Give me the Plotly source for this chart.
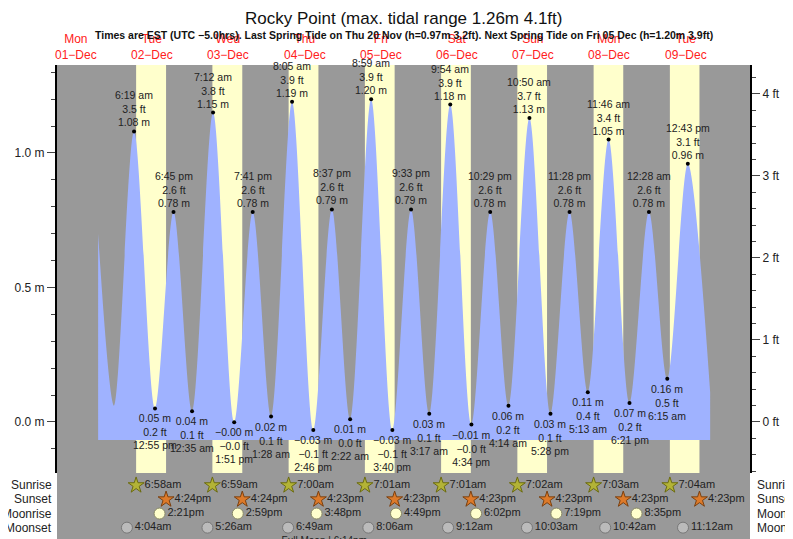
import plotly.graph_objects as go

# ---- data ----
ext_day = [2,2,2,3,3,3,3,4,4,4,4,5,5,5,5,6,6,6,6,7,7,7,7,8,8,8,9,9,9]
ext_time = ["06:19","12:55","18:45","00:35","07:12","13:51","19:41","01:28","08:05","14:46","20:37",
            "02:22","08:59","15:40","21:33","03:17","09:54","16:34","22:29","04:14","10:50","17:28",
            "23:28","05:13","11:46","18:21","00:28","06:15","12:43"]
ext_m = [1.08,0.05,0.78,0.04,1.15,-0.001,0.78,0.02,1.19,-0.03,0.79,0.01,1.20,-0.03,0.79,0.03,1.18,-0.01,
         0.78,0.06,1.13,0.03,0.78,0.11,1.05,0.07,0.78,0.16,0.96]
ext_ft = ["3.5","0.2","2.6","0.1","3.8","-0.0","2.6","0.1","3.9","-0.1","2.6","0.0","3.9","-0.1","2.6",
          "0.1","3.9","-0.0","2.6","0.2","3.7","0.1","2.6","0.4","3.4","0.2","2.6","0.5","3.1"]
ext_high = [1,0,1,0,1,0,1,0,1,0,1,0,1,0,1,0,1,0,1,0,1,0,1,0,1,0,1,0,1]
# curve ends (unlabelled)
start_pts = [(1,"19:00",0.70),(2,"00:00",0.06)]
end_pts = [(9,"19:45",0.11)]

days = [2,3,4,5,6,7,8,9]
sunrise = ["6:58am","6:59am","7:00am","7:01am","7:01am","7:02am","7:03am","7:04am"]
sunset = ["4:24pm","4:24pm","4:23pm","4:23pm","4:23pm","4:23pm","4:23pm","4:23pm"]
moon_days_r = [2,3,4,5,6,7,8]
moonrise = ["2:21pm","2:59pm","3:48pm","4:49pm","6:02pm","7:19pm","8:35pm"]
moonset = ["4:04am","5:26am","6:49am","8:06am","9:12am","10:03am","10:42am","11:12am"]
full_moon = (4, "6:14pm")
day_labels = ["Mon<br>01−Dec","Tue<br>02−Dec","Wed<br>03−Dec","Thu<br>04−Dec","Fri<br>05−Dec",
              "Sat<br>06−Dec","Sun<br>07−Dec","Mon<br>08−Dec","Tue<br>09−Dec"]

def hrs(day, t):
    t = t.strip()
    ampm = None
    if t.endswith("am") or t.endswith("pm"):
        ampm = t[-2:]; t = t[:-2]
    hh, mm = t.split(":")
    hh = int(hh); mm = int(mm)
    if ampm == "pm" and hh != 12: hh += 12
    if ampm == "am" and hh == 12: hh = 0
    return (day-1)*24 + hh + mm/60

def fmt12(t):
    hh, mm = map(int, t.split(":"))
    ap = "am" if hh < 12 else "pm"
    h12 = hh % 12 or 12
    return f"{h12}:{mm:02d} {ap}"

def neg(s):
    return s.replace("-", "−")

ex_x = [hrs(d, t) for d, t in zip(ext_day, ext_time)]
cx = [hrs(d,t) for d,t,_ in start_pts] + ex_x + [hrs(d,t) for d,t,_ in end_pts]
cy = [v for _,_,v in start_pts] + ext_m + [v for _,_,v in end_pts]
BASE = -0.067

YEL = "#ffffcc"; GRAY = "#999999"; BLUE = "#9fb2ff"
fig = go.Figure()
fig.add_trace(go.Scatter(x=[cx[0], cx[-1]], y=[BASE, BASE], mode="lines", line=dict(width=0),
                         hoverinfo="skip", showlegend=False))
fig.add_trace(go.Scatter(x=cx, y=cy, mode="lines", line=dict(shape="spline", smoothing=0.9, width=0, color=BLUE),
                         fill="tonexty", fillcolor=BLUE, showlegend=False, hoverinfo="skip"))
fig.add_trace(go.Scatter(x=ex_x, y=ext_m, mode="markers", marker=dict(color="black", size=4),
                         showlegend=False))

F = "Liberation Sans, Arial, sans-serif"
ann = []
for x, m, ft, t, hi in zip(ex_x, ext_m, ext_ft, ext_time, ext_high):
    ms = neg(f"{m:.2f}") + " m"
    fs = neg(ft) + " ft"
    ts = fmt12(t)
    if hi:
        ann.append(dict(x=x, y=m, text=f"{ts}<br>{fs}<br>{ms}", showarrow=False, yanchor="bottom", yshift=1,
                        font=dict(size=10.5, color="#222"), xref="x", yref="y"))
    else:
        ann.append(dict(x=x, y=m, text=f"{ms}<br>{fs}<br>{ts}", showarrow=False, yanchor="top", yshift=-2,
                        font=dict(size=10.5, color="#222"), xref="x", yref="y"))

# day labels at noon
for i, lab in enumerate(day_labels):
    ann.append(dict(x=i*24+12, y=1.0, yref="paper", xref="x", yanchor="bottom", yshift=1, text=lab,
                    showarrow=False, font=dict(size=12, color="#ff2020")))

shapes = []
for d, sr, ss in zip(days, sunrise, sunset):
    shapes.append(dict(type="rect", xref="x", yref="y domain", x0=hrs(d, sr), x1=hrs(d, ss), y0=0, y1=1,
                       fillcolor=YEL, line=dict(width=0), layer="below"))

# bottom rows (yaxis3: row index)
def row_trace(xs, row, txt, sym, col, lc, size):
    fig.add_trace(go.Scatter(x=xs, y=[row]*len(xs), yaxis="y3", mode="markers+text", text=txt,
                             textposition="middle right", textfont=dict(size=11, color="#222", family=F),
                             marker=dict(symbol=sym, size=size, color=col, line=dict(color=lc, width=1)),
                             showlegend=False, cliponaxis=False))

row_trace([hrs(d, t) for d, t in zip(days, sunrise)], 0, sunrise, "star", "#b3b336", "#6b6b10", 12)
row_trace([hrs(d, t) for d, t in zip(days, sunset)], 1, sunset, "star", "#dd7a2a", "#7a4010", 12)
row_trace([hrs(d, t) for d, t in zip(moon_days_r, moonrise)], 2, moonrise, "circle", "#ffffcc", "#888866", 11)
row_trace([hrs(d, t) for d, t in zip(days, moonset)], 3, moonset, "circle", "#bbbbbb", "#777777", 11)
fig.add_trace(go.Scatter(x=[hrs(*full_moon)], y=[4], yaxis="y3", mode="text",
                         text=[f"Full Moon | {full_moon[1]}"], textfont=dict(size=10, color="#222", family=F),
                         textposition="middle center", showlegend=False, cliponaxis=False))

rows = ["Sunrise", "Sunset", "Moonrise", "Moonset"]
for i, r in enumerate(rows):
    ann.append(dict(x=0, xref="paper", xanchor="right", xshift=-3, y=i, yref="y3", text=r, showarrow=False,
                    font=dict(size=12, color="#222")))
    ann.append(dict(x=1, xref="paper", xanchor="left", xshift=5, y=i, yref="y3", text=r, showarrow=False,
                    font=dict(size=12, color="#222")))

ann.append(dict(x=0.5, xref="paper", y=1, yref="paper", yanchor="middle", yshift=47,
                text="Rocky Point (max. tidal range 1.26m 4.1ft)", showarrow=False, font=dict(size=17, color="#111")))
ann.append(dict(x=0.5, xref="paper", y=1, yref="paper", yanchor="middle", yshift=30,
                text="<b>Times are EST (UTC −5.0hrs). Last Spring Tide on Thu 20 Nov (h=0.97m 3.2ft). Next Spring Tide on Fri 05 Dec (h=1.20m 3.9ft)</b>",
                showarrow=False, font=dict(size=10.5, color="#111")))

H = 539; T = 57; B = 3
ph = H - T - B
dom0 = (H - B - 465) / ph
YMIN, YMAX = -0.19, 1.327
fig.update_layout(
    width=793, height=539, margin=dict(l=49, r=51, t=T, b=B, autoexpand=False),
    paper_bgcolor="white", plot_bgcolor=GRAY, font=dict(family=F),
    xaxis=dict(range=[6.05, 224.3], showticklabels=False, showgrid=False, zeroline=False, ticks="", automargin=False),
    yaxis=dict(domain=[dom0, 1], range=[YMIN, YMAX], tickvals=[0, 0.5, 1.0], ticktext=["0.0 m", "0.5 m", "1.0 m"],
               ticks="outside", ticklen=8, showgrid=False, zeroline=False, showline=True, linecolor="black",
               linewidth=2, tickfont=dict(size=12, color="#222"), automargin=False,
               minor=dict(dtick=0.1, ticks="outside", ticklen=4, tick0=0)),
    yaxis2=dict(domain=[dom0, 1], overlaying="y", side="right", range=[YMIN/0.3048, YMAX/0.3048],
                tickvals=[0, 1, 2, 3, 4], ticktext=["0 ft", "1 ft", "2 ft", "3 ft", "4 ft"], ticks="outside",
                ticklen=8, showgrid=False, zeroline=False, showline=True, linecolor="black", linewidth=2,
                tickfont=dict(size=12, color="#222"), automargin=False,
                minor=dict(dtick=0.2, ticks="outside", ticklen=4, tick0=0)),
    yaxis3=dict(domain=[0, dom0], range=[4.16, -0.876], visible=False, automargin=False),
    annotations=ann, shapes=shapes, showlegend=False,
)
fig.add_trace(go.Scatter(x=[None], y=[None], yaxis="y2", showlegend=False))
fig.write_html("out.html")
